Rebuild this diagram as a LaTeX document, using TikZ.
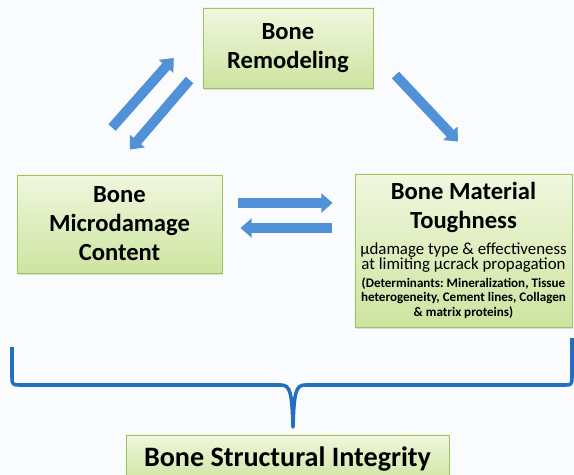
\documentclass[tikz,border=0pt]{standalone}
\usepackage{fontspec}
\setmainfont{Carlito}
\usepackage{tikz}
\usetikzlibrary{arrows.meta,calc,shadows}
\definecolor{boxline}{RGB}{155,195,95}
\definecolor{boxtop}{RGB}{240,247,222}
\definecolor{boxbottom}{RGB}{205,228,160}
\definecolor{arrowblue}{RGB}{80,145,215}
\definecolor{braceblue}{RGB}{32,112,190}
\definecolor{paper}{RGB}{250,251,253}
\lineskiplimit=-20pt
\frenchspacing

\begin{document}
\begin{tikzpicture}[x=0.025cm, y=-0.025cm,
    box/.style={draw=boxline, line width=0.6pt, top color=boxtop, bottom color=boxbottom,
        inner xsep=0pt, inner ysep=0pt, align=flush center,
        drop shadow={shadow xshift=0.8pt, shadow yshift=-1.2pt, opacity=0.25}},
    title/.style={font=\fontsize{17.5}{20.6}\selectfont\bfseries},
    bigarrow/.style={draw=arrowblue, line width=7pt, -{Triangle[width=13.5pt, length=8pt]}},
    brace/.style={draw=braceblue, line width=2.5pt, line join=round}]
        % Page
        \fill[paper] (0,0) rectangle (574,475);
        \useasboundingbox (0,0) rectangle (574,475);

        % Boxes
        \node[box, title, text width=4.25cm, minimum height=2cm] (remodel) at (288,48) {Bone\\Remodeling};
        \node[box, title, text width=5.125cm, minimum height=2.45cm] (micro) at (119.5,224) {Bone\\Microdamage\\Content};
        \node[box, text width=5.425cm, minimum height=3.825cm] (tough) at (463.5,250.5) {%
            {\fontsize{17.5}{20.6}\selectfont\bfseries Bone Material\\Toughness\par}
            \vspace{5.7pt}
            {\fontsize{12}{10.7}\selectfont µdamage type \& effectiveness\\at limiting µcrack propagation\par}
            \vspace{2.4pt}
            {\fontsize{9.3}{10.4}\selectfont\bfseries (Determinants: Mineralization, Tissue\\heterogeneity, Cement lines, Collagen\\\& matrix proteins)\par}};
        \node[box, font=\fontsize{20}{24}\selectfont\bfseries, text width=8.075cm, minimum height=1.2cm] (integ) at (287.5,459) {Bone Structural Integrity};

        % Arrows
        \draw[bigarrow] ($(micro.north)+(-7.5,-47)$) -- ($(remodel.west)+(-29,10)$);
        \draw[bigarrow] ($(remodel.west)+(-13,32)$) -- ($(micro.north)+(10.5,-25)$);
        \draw[bigarrow] ($(remodel.east)+(22,27)$) -- ($(tough.north)+(-5.5,-32)$);
        \draw[bigarrow] ($(micro.east)+(16,-21)$) -- ($(micro.east -| tough.west)+(-22,-21)$);
        \draw[bigarrow] ($(micro.east -| tough.west)+(-23,4)$) -- ($(micro.east)+(18,4)$);

        % Brace
        \draw[brace] (12,347) -- (12,378) .. controls (12,384) and (13,385) .. (19,385)
            -- (281,385) .. controls (290,385) and (292,392) .. (293,427)
            .. controls (294,392) and (296,385) .. (305,385)
            -- (566,385) .. controls (571,385) and (572,384) .. (572,378) -- (572,338);
    \end{tikzpicture}
\end{document}
